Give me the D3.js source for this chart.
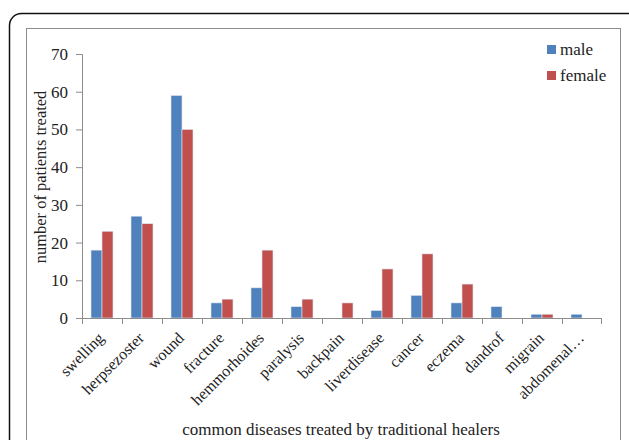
<!DOCTYPE html>
<html>
<head>
<meta charset="utf-8">
<script src="https://cdn.jsdelivr.net/npm/d3@7"></script>
<style>
  body { margin: 0; background: #fff; }
  text { font-family: "Liberation Serif", "Times New Roman", serif; fill: #222; }
</style>
</head>
<body>
<div id="chart"></div>
<script>
// chart data
var diseases = ["swelling", "herpsezoster", "wound", "fracture", "hemmorhoides", "paralysis",
  "backpain", "liverdisease", "cancer", "eczema", "dandrof", "migrain", "abdomenal\u2026"];
var maleValues = [18, 27, 59, 4, 8, 3, 0, 2, 6, 4, 3, 1, 1];
var femaleValues = [23, 25, 50, 5, 18, 5, 4, 13, 17, 9, 0, 1, 0];
var seriesNames = ["male", "female"];
var yTicks = [0, 10, 20, 30, 40, 50, 60, 70];

var svgWidth = 629;
var svgHeight = 440;
var margin = { top: 54, right: 27, bottom: 122, left: 82 };
var width = svgWidth - margin.left - margin.right;
var height = svgHeight - margin.top - margin.bottom;

var colors = { male: "#4F81BD", female: "#C0504D" };

var svg = d3.select("#chart")
  .append("svg")
  .attr("width", svgWidth)
  .attr("height", svgHeight);

// outer rounded frame and inner chart area border
svg.append("rect")
  .attr("x", 9.5).attr("y", 13.5)
  .attr("width", 640).attr("height", 460)
  .attr("rx", 12)
  .attr("fill", "none")
  .attr("stroke", "#111")
  .attr("stroke-width", 1.5);

svg.append("rect")
  .attr("x", 26.5).attr("y", 28.5)
  .attr("width", 594).attr("height", 430)
  .attr("fill", "none")
  .attr("stroke", "#8c8c8c")
  .attr("stroke-width", 1);

var chartGroup = svg.append("g")
  .attr("transform", `translate(${margin.left}, ${margin.top})`);

var xScale = d3.scaleBand()
  .domain(diseases)
  .range([0, width]);

var xInner = d3.scaleBand()
  .domain(seriesNames)
  .range([0, xScale.bandwidth()])
  .paddingOuter(0.82)
  .paddingInner(0);

var yScale = d3.scaleLinear()
  .domain([0, 70])
  .range([height, 0]);

// bars
var rows = diseases.map(function(d, i) {
  return { name: d, male: maleValues[i], female: femaleValues[i] };
});

var groups = chartGroup.selectAll(".grp")
  .data(rows)
  .enter()
  .append("g")
  .attr("class", "grp")
  .attr("transform", d => `translate(${xScale(d.name)}, 0)`);

groups.selectAll("rect")
  .data(d => seriesNames.map(k => ({ key: k, value: d[k] })))
  .enter()
  .append("rect")
  .attr("x", d => xInner(d.key))
  .attr("y", d => yScale(d.value))
  .attr("width", xInner.bandwidth())
  .attr("height", d => height - yScale(d.value))
  .attr("fill", d => colors[d.key])
  .attr("stroke", d => d.value > 0 ? "#dfe6ef" : "none")
  .attr("stroke-width", 0.6);

// y axis
var leftAxis = d3.axisLeft(yScale)
  .tickValues(yTicks)
  .tickSize(6)
  .tickPadding(8);

var yAxis = chartGroup.append("g")
  .call(leftAxis);
yAxis.select(".domain").attr("stroke", "#8c8c8c");
yAxis.selectAll(".tick line").attr("stroke", "#8c8c8c");
yAxis.selectAll(".tick text")
  .attr("font-size", "17px")
  .attr("font-family", "Liberation Serif")
  .attr("fill", "#222");

// x axis: ticks at category boundaries
var xAxisG = chartGroup.append("g")
  .attr("transform", `translate(0, ${height})`);

xAxisG.append("line")
  .attr("x1", 0).attr("x2", width)
  .attr("y1", 0.5).attr("y2", 0.5)
  .attr("stroke", "#8c8c8c");

xAxisG.selectAll(".bound")
  .data(diseases.concat([null]))
  .enter()
  .append("line")
  .attr("class", "bound")
  .attr("x1", (d, i) => i < diseases.length ? xScale(d) + 0.5 : width - 0.5)
  .attr("x2", (d, i) => i < diseases.length ? xScale(d) + 0.5 : width - 0.5)
  .attr("y1", 0)
  .attr("y2", 6)
  .attr("stroke", "#8c8c8c");

xAxisG.selectAll(".xlabel")
  .data(diseases)
  .enter()
  .append("text")
  .attr("class", "xlabel")
  .attr("transform", d => `translate(${xScale(d) + xScale.bandwidth() / 2 + 3}, 21) rotate(-45)`)
  .attr("text-anchor", "end")
  .attr("font-size", "16px")
  .text(d => d);

// axis titles
svg.append("text")
  .attr("transform", "translate(46, 177) rotate(-90)")
  .attr("text-anchor", "middle")
  .attr("font-size", "16.5px")
  .text("number of patients treated");

svg.append("text")
  .attr("x", 341)
  .attr("y", 435)
  .attr("text-anchor", "middle")
  .attr("font-size", "17px")
  .text("common diseases treated by traditional healers");

// legend
var legend = svg.append("g")
  .attr("transform", "translate(547, 45)");

var legendItems = legend.selectAll(".leg")
  .data(seriesNames)
  .enter()
  .append("g")
  .attr("transform", (d, i) => `translate(0, ${i * 26})`);

legendItems.append("rect")
  .attr("width", 9).attr("height", 9)
  .attr("fill", d => colors[d]);

legendItems.append("text")
  .attr("x", 13)
  .attr("y", 10)
  .attr("font-size", "17px")
  .text(d => d);
</script>
</body>
</html>
